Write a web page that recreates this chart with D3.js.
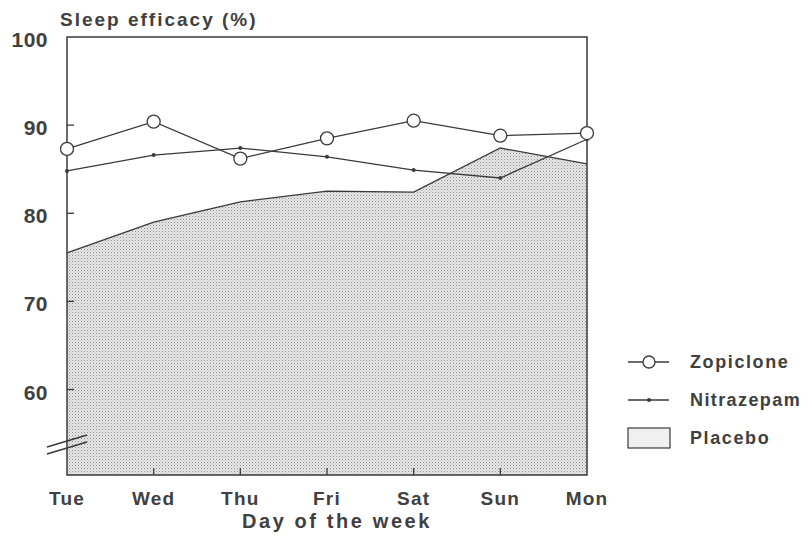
<!DOCTYPE html>
<html>
<head>
<meta charset="utf-8">
<script src="https://cdn.jsdelivr.net/npm/d3@7"></script>
<style>
  body { margin: 0; background: #fff; }
  text { font-family: "Liberation Sans", Arial, sans-serif; font-weight: bold; fill: #404040; }
</style>
</head>
<body>
<svg id="chart" width="811" height="538"></svg>
<script>
// values
var days = ['Tue', 'Wed', 'Thu', 'Fri', 'Sat', 'Sun', 'Mon'];
var zopiclone = [87.3, 90.4, 86.2, 88.5, 90.5, 88.8, 89.1];
var nitrazepam = [84.8, 86.6, 87.4, 86.4, 84.9, 84.0, 88.4];
var placebo = [75.5, 79.0, 81.3, 82.5, 82.4, 87.4, 85.6];
var yTicks = [60, 70, 80, 90, 100];

var svg = d3.select('#chart');
var ink = '#3a3a3a';

// plot frame
var pLeft = 67, pRight = 587, pTop = 37, pBottom = 475;

var x = d3.scalePoint().domain(days).range([pLeft, pRight]);
var y = d3.scaleLinear().domain([50.3, 100]).range([pBottom, pTop]);

// stipple pattern for placebo
var defs = svg.append('defs');
var pat = defs.append('pattern')
  .attr('id', 'stipple')
  .attr('width', 3)
  .attr('height', 3)
  .attr('patternUnits', 'userSpaceOnUse');
pat.append('rect').attr('width', 3).attr('height', 3).attr('fill', '#e8e8e8');
pat.append('rect').attr('x', 0).attr('y', 0).attr('width', 1).attr('height', 1).attr('fill', '#8e8e8e');
pat.append('rect').attr('x', 1.5).attr('y', 1.5).attr('width', 1).attr('height', 1).attr('fill', '#acacac');

var line = d3.line()
  .x(function(d, i) { return x(days[i]); })
  .y(function(d) { return y(d); });

// placebo area
var area = d3.area()
  .x(function(d, i) { return x(days[i]); })
  .y0(pBottom)
  .y1(function(d) { return y(d); });
svg.append('path')
  .datum(placebo)
  .attr('d', area)
  .attr('fill', 'url(#stipple)');
svg.append('path')
  .datum(placebo)
  .attr('d', line)
  .attr('fill', 'none')
  .attr('stroke', ink)
  .attr('stroke-width', 1.3);

// frame
svg.append('rect')
  .attr('x', pLeft).attr('y', pTop)
  .attr('width', pRight - pLeft).attr('height', pBottom - pTop)
  .attr('fill', 'none').attr('stroke', ink).attr('stroke-width', 1.5);

// y ticks (inside)
yTicks.forEach(function(t) {
  if (t < 100) {
    svg.append('line')
      .attr('x1', pLeft).attr('x2', pLeft + 7)
      .attr('y1', y(t)).attr('y2', y(t))
      .attr('stroke', ink).attr('stroke-width', 1.3);
  }
  svg.append('text')
    .attr('x', 48).attr('y', y(t) + 10)
    .attr('text-anchor', 'end')
    .attr('font-size', 21)
    .attr('letter-spacing', 0.5)
    .text(t);
});

// x ticks (inside)
days.forEach(function(d, i) {
  if (i > 0 && i < days.length - 1) {
    svg.append('line')
      .attr('x1', x(d)).attr('x2', x(d))
      .attr('y1', pBottom).attr('y2', pBottom - 7)
      .attr('stroke', ink).attr('stroke-width', 1.3);
  }
  svg.append('text')
    .attr('x', x(d)).attr('y', 505)
    .attr('text-anchor', 'middle')
    .attr('font-size', 19)
    .attr('letter-spacing', 1.2)
    .text(d);
});

// axis break marks
[0, 7].forEach(function(off) {
  svg.append('line')
    .attr('x1', 47).attr('y1', 447 + off)
    .attr('x2', 87).attr('y2', 435 + off)
    .attr('stroke', ink).attr('stroke-width', 1.5);
});

// nitrazepam
svg.append('path')
  .datum(nitrazepam)
  .attr('d', line)
  .attr('fill', 'none').attr('stroke', ink).attr('stroke-width', 1.3);
svg.selectAll('.ndot').data(nitrazepam).enter().append('circle')
  .attr('cx', function(d, i) { return x(days[i]); })
  .attr('cy', function(d) { return y(d); })
  .attr('r', 2).attr('fill', ink);

// zopiclone
svg.append('path')
  .datum(zopiclone)
  .attr('d', line)
  .attr('fill', 'none').attr('stroke', ink).attr('stroke-width', 1.3);
svg.selectAll('.zdot').data(zopiclone).enter().append('circle')
  .attr('cx', function(d, i) { return x(days[i]); })
  .attr('cy', function(d) { return y(d); })
  .attr('r', 6.5).attr('fill', '#fff').attr('stroke', ink).attr('stroke-width', 1.3);

// titles
svg.append('text')
  .attr('x', 60).attr('y', 26)
  .attr('font-size', 19).attr('letter-spacing', 2)
  .text('Sleep efficacy (%)');
svg.append('text')
  .attr('x', 337).attr('y', 528)
  .attr('text-anchor', 'middle')
  .attr('font-size', 20).attr('letter-spacing', 2.6)
  .text('Day of the week');

// legend
var lg = svg.append('g');
lg.append('line').attr('x1', 628).attr('x2', 669).attr('y1', 362).attr('y2', 362)
  .attr('stroke', ink).attr('stroke-width', 1.3);
lg.append('circle').attr('cx', 649).attr('cy', 362).attr('r', 6)
  .attr('fill', '#fff').attr('stroke', ink).attr('stroke-width', 1.3);
lg.append('text').attr('x', 690).attr('y', 368).attr('font-size', 18).attr('letter-spacing', 1.6).text('Zopiclone');

lg.append('line').attr('x1', 628).attr('x2', 669).attr('y1', 400).attr('y2', 400)
  .attr('stroke', ink).attr('stroke-width', 1.3);
lg.append('circle').attr('cx', 649).attr('cy', 400).attr('r', 2).attr('fill', ink);
lg.append('text').attr('x', 690).attr('y', 406).attr('font-size', 18).attr('letter-spacing', 1.4).text('Nitrazepam');

lg.append('rect').attr('x', 628).attr('y', 428).attr('width', 42).attr('height', 20)
  .attr('fill', '#f0f0f0').attr('stroke', ink).attr('stroke-width', 1.2);
lg.append('text').attr('x', 690).attr('y', 444).attr('font-size', 18).attr('letter-spacing', 1.6).text('Placebo');
</script>
</body>
</html>
